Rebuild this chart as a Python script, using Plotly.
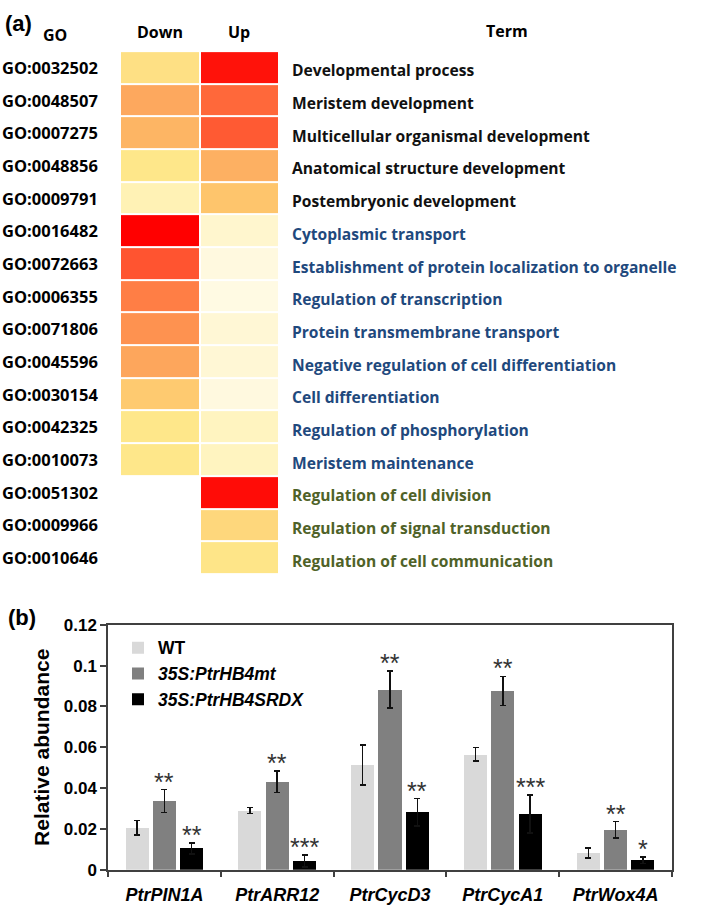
import plotly.graph_objects as go

# ---------------- data: heatmap ----------------
go_ids = ["GO:0032502", "GO:0048507", "GO:0007275", "GO:0048856", "GO:0009791",
          "GO:0016482", "GO:0072663", "GO:0006355", "GO:0071806", "GO:0045596",
          "GO:0030154", "GO:0042325", "GO:0010073", "GO:0051302", "GO:0009966",
          "GO:0010646"]
terms = ["Developmental process", "Meristem development",
         "Multicellular organismal development", "Anatomical structure development",
         "Postembryonic development", "Cytoplasmic transport",
         "Establishment of protein localization to organelle",
         "Regulation of transcription", "Protein transmembrane transport",
         "Negative regulation of cell differentiation", "Cell differentiation",
         "Regulation of phosphorylation", "Meristem maintenance",
         "Regulation of cell division", "Regulation of signal transduction",
         "Regulation of cell communication"]
term_group = ["both"] * 5 + ["down"] * 8 + ["up"] * 3
down_vals = [0.33, 0.57, 0.52, 0.30, 0.15, 1.00, 0.86, 0.72, 0.65, 0.58, 0.43, 0.30, 0.30,
             None, None, None]
up_vals = [0.97, 0.80, 0.85, 0.54, 0.45, 0.08, 0.03, 0.02, 0.06, 0.06, 0.03, 0.12, 0.12,
           0.98, 0.37, 0.31]
columns = ["Down", "Up"]

# ---------------- data: bar chart ----------------
genes = ["PtrPIN1A", "PtrARR12", "PtrCycD3", "PtrCycA1", "PtrWox4A"]
series_names = ["WT", "<i>35S:PtrHB4mt</i>", "<i>35S:PtrHB4SRDX</i>"]
wt = [0.0205, 0.0290, 0.0514, 0.0565, 0.0082]
wt_err = [0.0035, 0.0015, 0.0098, 0.0033, 0.0025]
mt = [0.0336, 0.0432, 0.0883, 0.0876, 0.0196]
mt_err = [0.0056, 0.0053, 0.0090, 0.0072, 0.0040]
srdx = [0.0105, 0.0042, 0.0281, 0.0273, 0.0047]
srdx_err = [0.0027, 0.0030, 0.0067, 0.0093, 0.0016]
mt_sig = ["**", "**", "**", "**", "**"]
srdx_sig = ["**", "***", "**", "***", "*"]

W, H = 709, 912
def px(x):
    return x / W
def py(y):
    return 1 - y / H

fig = go.Figure()

# ---------- heatmap ----------
cscale = [[0.0, "#fffbea"], [0.15, "#fff2b5"], [0.30, "#fee78a"], [0.45, "#fec56c"],
          [0.55, "#fdae61"], [0.70, "#ff8448"], [0.85, "#ff5a33"], [1.0, "#ff0000"]]
z = [[d, u] for d, u in zip(down_vals, up_vals)]
fig.add_trace(go.Heatmap(z=z, x=[0, 1], y=list(range(len(go_ids))), colorscale=cscale,
                         zmin=0, zmax=1, showscale=False, xgap=2, ygap=2,
                         hoverongaps=False, xaxis="x", yaxis="y", showlegend=False))

fig.update_layout(
    xaxis=dict(domain=[px(120), px(279)], range=[-0.5, 1.5], visible=False, fixedrange=True),
    yaxis=dict(domain=[py(577), py(43)], range=[15.5, -0.5], visible=False, fixedrange=True),
)

ann = []
gofont = dict(family="Open Sans", size=16.5, color="#000000", weight="bold")
hdrfont = dict(family="Open Sans", size=16, color="#000000", weight="bold")
termfont_base = dict(family="Open Sans", size=15.6, weight="bold")
tcolors = {"both": "#111111", "down": "#1f497d", "up": "#4f6228"}
for i, (gid, t, g) in enumerate(zip(go_ids, terms, term_group)):
    ann.append(dict(x=px(0), y=i, xref="paper", yref="y", text=gid, showarrow=False,
                    xanchor="left", yanchor="middle", font=gofont))
    ann.append(dict(x=px(290), y=i, xref="paper", yref="y", text=t, showarrow=False,
                    xanchor="left", yanchor="middle", yshift=-3,
                    font=dict(termfont_base, color=tcolors[g])))
# headers
ann.append(dict(x=px(3), y=py(15), xref="paper", yref="paper", text="(a)", showarrow=False,
                xanchor="left", yanchor="middle",
                font=dict(family="Liberation Sans", size=22, color="#000", weight="bold")))
ann.append(dict(x=px(55), y=py(27), xref="paper", yref="paper", text="GO", showarrow=False,
                xanchor="center", yanchor="middle", font=hdrfont))
for j, c in enumerate(columns):
    ann.append(dict(x=j, y=py(24), xref="x", yref="paper", text=c, showarrow=False,
                    xanchor="center", yanchor="middle", font=hdrfont))
ann.append(dict(x=px(507), y=py(22), xref="paper", yref="paper", text="Term", showarrow=False,
                xanchor="center", yanchor="middle", font=hdrfont))

# ---------- bar chart ----------
offset = 0.242
bw = 0.205
bar_series = [(wt, wt_err, "#d9d9d9"), (mt, mt_err, "#808080"), (srdx, srdx_err, "#000000")]
for k, ((vals, errs, col), name) in enumerate(zip(bar_series, series_names)):
    xs = [i + (k - 1) * offset for i in range(len(genes))]
    fig.add_trace(go.Bar(x=xs, y=vals, width=bw, name=name, marker=dict(color=col, line=dict(width=0)),
                         error_y=dict(type="data", array=errs, visible=True, color="#111111",
                                      thickness=1.5, width=3),
                         xaxis="x2", yaxis="y2"))

for k, (vals, errs, sig) in enumerate([(mt, mt_err, mt_sig), (srdx, srdx_err, srdx_sig)]):
    for i in range(len(genes)):
        ann.append(dict(x=i + k * offset, y=vals[i] + errs[i], xref="x2", yref="y2",
                        text=sig[i], showarrow=False, xanchor="center", yanchor="bottom",
                        yshift=-8,
                        font=dict(family="Liberation Sans", size=25, color="#333333")))

ann.append(dict(x=px(6), y=py(621), xref="paper", yref="paper", text="(b)", showarrow=False,
                xanchor="left", yanchor="middle",
                font=dict(family="Liberation Sans", size=22, color="#000", weight="bold")))

axis_line = "#404040"
fig.update_layout(
    xaxis2=dict(domain=[px(108), px(672)], anchor="y2", range=[-0.5, 4.5],
                tickvals=list(range(len(genes))), ticktext=genes, ticks="",
                showline=True, linecolor=axis_line, linewidth=1.5, mirror=True,
                showgrid=False, zeroline=False, ticklabelstandoff=8,
                tickfont=dict(family="Liberation Sans", size=18, color="#000",
                              weight="bold", style="italic"),
                minor=dict(tickvals=[-0.5, 0.5, 1.5, 2.5, 3.5, 4.5], ticks="outside",
                           ticklen=6, tickcolor=axis_line, tickwidth=1.5, showgrid=False),
                fixedrange=True),
    yaxis2=dict(domain=[py(879), py(629)], anchor="x2", range=[0, 0.12], dtick=0.02,
                ticks="outside", ticklen=6, tickcolor=axis_line, tickwidth=1.5,
                showline=True, linecolor=axis_line, linewidth=1.5, mirror=True,
                showgrid=False, zeroline=False,
                tickfont=dict(family="Liberation Sans", size=17, color="#000", weight="bold"),
                title=dict(text="Relative abundance", standoff=8,
                           font=dict(family="Liberation Sans", size=21, color="#000",
                                     weight="bold")),
                fixedrange=True),
    legend=dict(x=px(118), y=py(634), xanchor="left", yanchor="top",
                bgcolor="rgba(0,0,0,0)", tracegroupgap=0, itemwidth=30,
                font=dict(family="Liberation Sans", size=17.5, color="#000", weight="bold")),
    showlegend=True,
    annotations=ann,
    width=W, height=H,
    margin=dict(l=0, r=0, t=0, b=0),
    paper_bgcolor="white", plot_bgcolor="white",
    bargap=0,
)

fig.write_html("out.html", config={"displayModeBar": False},
               post_script="document.body.style.margin='0';document.body.style.overflow='hidden';")
